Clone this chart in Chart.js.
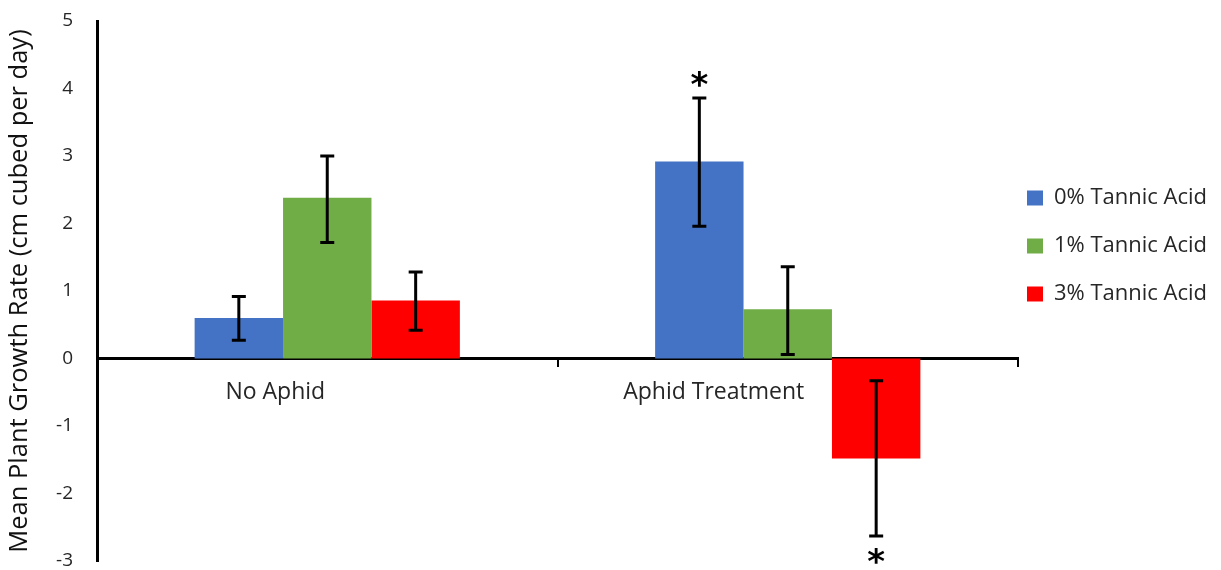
<!DOCTYPE html>
<html><head><meta charset="utf-8">
<script src="https://cdn.jsdelivr.net/npm/chart.js@4.4.1/dist/chart.umd.min.js"></script>
<style>html,body{margin:0;padding:0;background:#fff}</style>
</head><body>
<canvas id="c" width="1221" height="570"></canvas>
<script>
const categories = ['No Aphid', 'Aphid Treatment'];
const seriesNames = ['0% Tannic Acid', '1% Tannic Acid', '3% Tannic Acid'];
const seriesColors = ['#4472C4', '#70AD47', '#FF0000'];
const tannic0 = [0.60, 2.92];
const tannic1 = [2.38, 0.73];
const tannic3 = [0.86, -1.48];
const errLow0 = [0.27, 1.96];
const errHigh0 = [0.92, 3.86];
const errLow1 = [1.72, 0.06];
const errHigh1 = [3.00, 1.36];
const errLow3 = [0.42, -2.63];
const errHigh3 = [1.28, -0.33];
const significant0 = [false, true];
const significant1 = [false, false];
const significant3 = [false, true];
const yTicks = [-3, -2, -1, 0, 1, 2, 3, 4, 5];
const yTitle = 'Mean Plant Growth Rate (cm cubed per day)';

const FONT = '"Open Sans"';
const TEXT = '#262626';
const xLabelShift = [-52, -74];

const seriesValues = [tannic0, tannic1, tannic3];
const errLows = [errLow0, errLow1, errLow3];
const errHighs = [errHigh0, errHigh1, errHigh3];
const sigs = [significant0, significant1, significant3];

const errorBars = {
  id: 'errorBars',
  afterDatasetsDraw(chart) {
    const ctx = chart.ctx;
    const ys = chart.scales.y;
    ctx.save();
    ctx.strokeStyle = '#000';
    ctx.lineWidth = 3;
    chart.data.datasets.forEach((ds, i) => {
      const meta = chart.getDatasetMeta(i);
      meta.data.forEach((el, j) => {
        const x = el.x;
        const yl = ys.getPixelForValue(errLows[i][j]);
        const yh = ys.getPixelForValue(errHighs[i][j]);
        const cap = 7;
        ctx.beginPath();
        ctx.moveTo(x, yl); ctx.lineTo(x, yh);
        ctx.moveTo(x - cap, yl); ctx.lineTo(x + cap, yl);
        ctx.moveTo(x - cap, yh); ctx.lineTo(x + cap, yh);
        ctx.stroke();
        if (sigs[i][j]) {
          ctx.font = 'bold 34px "DejaVu Sans"';
          ctx.fillStyle = '#000';
          ctx.textAlign = 'center';
          ctx.textBaseline = 'alphabetic';
          const m = ctx.measureText('*');
          const mid = (m.actualBoundingBoxAscent - m.actualBoundingBoxDescent) / 2;
          const target = seriesValues[i][j] >= 0 ? yh - 19 : yl + 20;
          ctx.fillText('*', x, target + mid);
        }
      });
    });
    ctx.restore();
  }
};

const layoutTweaks = {
  id: 'layoutTweaks',
  afterLayout(chart) {
    const l = chart.legend;
    if (l) { l.left -= 17; }
  },
  beforeDraw(chart) {
    const items = chart.scales.x.getLabelItems();
    items.forEach((it, i) => {
      if (!it._shifted) { it.options.translation[0] += xLabelShift[i] || 0; it._shifted = true; }
    });
  }
};

new Chart(document.getElementById('c'), {
  type: 'bar',
  data: {
    labels: categories,
    datasets: seriesNames.map((n, i) => ({
      label: n,
      data: seriesValues[i],
      backgroundColor: seriesColors[i],
      borderWidth: 0,
      categoryPercentage: 0.576,
      barPercentage: 1.0
    }))
  },
  options: {
    responsive: false,
    animation: false,
    devicePixelRatio: 1,
    layout: { padding: { top: 21, bottom: 9, left: 0, right: 0 } },
    plugins: {
      tooltip: { enabled: false },
      legend: {
        position: 'right',
        align: 'start',
        maxWidth: 203,
        title: { display: true, text: '', font: { size: 10 }, padding: { top: 128, bottom: 0 } },
        labels: {
          boxWidth: 16, boxHeight: 15, padding: 26,
          color: TEXT,
          font: { family: FONT, size: 22 }
        }
      }
    },
    scales: {
      x: {
        position: { y: 0 },
        offset: true,
        grid: { display: true, drawOnChartArea: false, drawTicks: true, tickLength: 7, color: '#000', lineWidth: 2, offset: true },
        border: { display: true, color: '#000', width: 3 },
        ticks: { color: TEXT, font: { family: FONT, size: 23 }, padding: 13, maxRotation: 0 }
      },
      y: {
        min: -3, max: 5,
        afterBuildTicks(scale) { scale.ticks = yTicks.map(v => ({ value: v })); },
        afterFit(scale) { scale.width = 97; scale.paddingTop = 0; scale.paddingBottom = 0; },
        grid: { display: false, drawTicks: false },
        border: { display: true, color: '#000', width: 3 },
        ticks: { color: TEXT, font: { family: FONT, size: 19 }, padding: 24 },
        title: { display: true, text: yTitle, color: '#111', font: { family: FONT, size: 25.5 }, padding: { top: 4, bottom: 0 } }
      }
    }
  },
  plugins: [errorBars, layoutTweaks]
});
</script>
</body></html>
